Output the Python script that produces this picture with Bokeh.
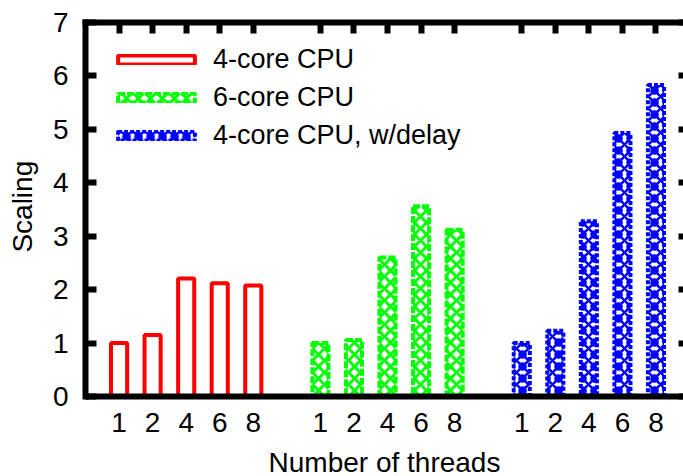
from bokeh.plotting import figure
from bokeh.models import (Range1d, FixedTicker, LinearAxis, Legend, LegendItem,
                          ColumnDataSource)
from bokeh.embed import file_html
from bokeh.resources import INLINE

# Speed-up relative to one thread, grouped by machine configuration
threads = ["1", "2", "4", "6", "8"]
series_names = ["4-core CPU", "6-core CPU", "4-core CPU, w/delay"]
cpu4 = [1.0, 1.15, 2.21, 2.12, 2.08]
cpu6 = [1.0, 1.06, 2.60, 3.56, 3.12]
cpu4_delay = [1.0, 1.23, 3.28, 4.93, 5.83]
y_ticks = [0, 1, 2, 3, 4, 5, 6, 7]

FONT = "Liberation Sans"
FS = "28px"
LEG_FS = "27px"
RED, GREEN, BLUE = "#ff0000", "#00ff00", "#0000ff"

slots = len(threads) + 1  # one empty slot between groups
groups = [cpu4, cpu6, cpu4_delay]
sources = []
all_pos = []
for g, vals in enumerate(groups):
    pos = [g * slots + i for i in range(len(threads))]
    all_pos += pos
    sources.append(ColumnDataSource(dict(x=pos, top=vals, label=threads)))

# the frame runs to the bottom edge; the x axis sits at y = 0 inside it
p = figure(width=683, height=476, output_backend="svg", toolbar_location=None,
           x_range=Range1d(-1, 16.82), y_range=Range1d(-1.497, 7),
           min_border_left=85, min_border_right=0, min_border_top=22,
           min_border_bottom=0)
p.xgrid.visible = False
p.ygrid.visible = False
p.outline_line_color = None
p.background_fill_color = "white"
p.border_fill_color = "white"

W = 0.48
r_red = p.vbar(x="x", top="top", width=W, source=sources[0],
               fill_color=None, line_color=RED, line_width=4)
r_green = p.vbar(x="x", top="top", width=W, source=sources[1],
                 fill_color=None, line_color=GREEN, line_width=4,
                 line_dash="7 2", hatch_pattern="x", hatch_color=GREEN,
                 hatch_scale=12, hatch_weight=3)
r_blue1 = p.vbar(x="x", top="top", width=W, source=sources[2],
                 fill_color=None, line_color=BLUE, line_width=4,
                 line_dash="4 2", hatch_pattern="x", hatch_color=BLUE,
                 hatch_scale=12, hatch_weight=2.5)
r_blue2 = p.vbar(x="x", top="top", width=W, source=sources[2],
                 fill_color=None, line_color=None,
                 hatch_pattern="o", hatch_color=BLUE,
                 hatch_scale=12, hatch_weight=2.5)


def frame_axis(ax, tick_in):
    ax.axis_line_width = 6
    ax.axis_line_color = "black"
    ax.axis_line_cap = "square"
    ax.major_tick_line_width = 6
    ax.major_tick_line_color = "black"
    ax.major_tick_in = tick_in
    ax.major_tick_out = 0
    ax.minor_tick_line_color = None
    ax.major_label_text_font = FONT
    ax.major_label_text_font_size = FS
    ax.major_label_text_color = "black"
    ax.axis_label_text_font = FONT
    ax.axis_label_text_font_size = FS
    ax.axis_label_text_font_style = "normal"
    ax.axis_label_text_color = "black"


# bottom axis at y = 0: thread counts under each bar
xa = p.xaxis[0]
frame_axis(xa, 0)
xa.fixed_location = 0
xa.ticker = FixedTicker(ticks=all_pos)
xa.major_label_overrides = {pos: threads[i % len(threads)]
                            for i, pos in enumerate(all_pos)}
xa.major_label_standoff = 16
xa.axis_label = "Number of threads"
xa.axis_label_standoff = 12

# left axis, limited to the 0..7 scale; the title is padded at its start
# with no-break spaces so it sits centred on the 0..7 span
ya = p.yaxis[0]
frame_axis(ya, 11)
ya.bounds = (0, 7)
ya.ticker = FixedTicker(ticks=y_ticks)
ya.major_label_standoff = 17
ya.axis_label = "\u00a0" * 11 + "Scaling"
ya.axis_label_standoff = 12

# mirrored ticks on top and right
top_ax = LinearAxis(ticker=FixedTicker(ticks=all_pos))
frame_axis(top_ax, 11)
top_ax.major_label_text_font_size = "0px"
top_ax.major_label_standoff = 0
p.add_layout(top_ax, "above")

right_ax = LinearAxis(ticker=FixedTicker(ticks=y_ticks))
frame_axis(right_ax, 5)
right_ax.axis_line_color = None
right_ax.major_label_text_font_size = "0px"
right_ax.major_label_standoff = 0
p.add_layout(right_ax, "right")

legend = Legend(items=[LegendItem(label=series_names[0], renderers=[r_red]),
                       LegendItem(label=series_names[1], renderers=[r_green]),
                       LegendItem(label=series_names[2], renderers=[r_blue1, r_blue2])],
                location=(23, 325), padding=0, margin=0, spacing=7,
                glyph_width=96, glyph_height=11, label_standoff=9,
                label_text_font=FONT, label_text_font_size=LEG_FS,
                label_text_color="black",
                border_line_color=None, background_fill_alpha=0)
p.add_layout(legend)

open("out.html", "w").write(file_html(p, INLINE))
